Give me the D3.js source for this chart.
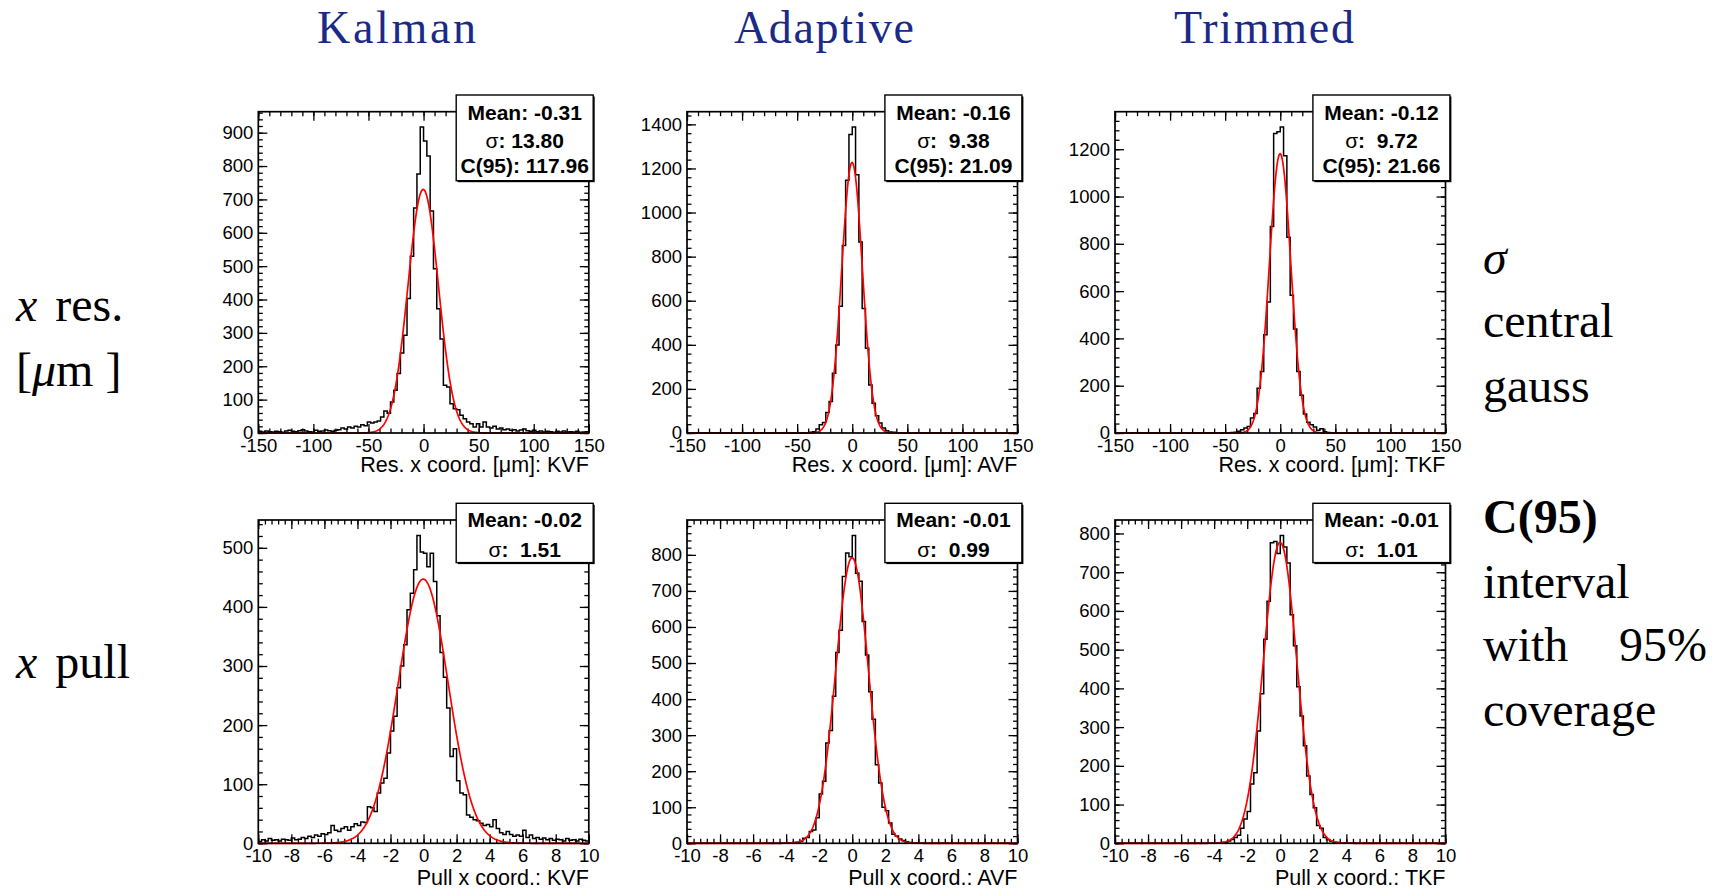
<!DOCTYPE html>
<html>
<head>
<meta charset="utf-8">
<script src="https://cdn.jsdelivr.net/npm/d3@7"></script>
<style>
  body { margin: 0; background: #fff; }
  svg { display: block; }
</style>
</head>
<body>
<svg id="chart" width="1715" height="891"></svg>
<script>
// ---------------- data ----------------
const algorithms = ["Kalman", "Adaptive", "Trimmed"];
const fitterCodes = ["KVF", "AVF", "TKF"];

// residual histograms: 100 bins over [-150, 150] µm
const resRange = [-150, 150];
const resKVF = [
  5, 3, 6, 4, 3, 5, 4, 2, 6, 8, 5, 4, 7, 10, 6, 4, 3, 8, 5, 6, 9, 7, 5, 8, 10,
  15, 12, 18, 15, 20, 18, 25, 22, 33, 30, 33, 36, 48, 66, 59, 93, 128, 178, 240, 293, 403, 530, 674, 776, 917,
  875, 830, 665, 492, 372, 282, 143, 138, 88, 73, 70, 53, 43, 33, 28, 18, 28, 18, 33, 18,
  15, 20, 12, 15, 10, 12, 8, 10, 6, 9, 12, 7, 5, 8, 4, 6, 3, 5, 4, 2, 5, 3, 6, 2, 4, 3, 5, 2, 3, 4
];
const resAVF = [
  0, 0, 0, 0, 0, 0, 0, 0, 0, 0, 0, 0, 0, 0, 0, 0, 0, 0, 0, 0, 0, 0, 0, 0, 0,
  0, 0, 0, 0, 0, 0, 0, 0, 0, 0, 1, 1, 3, 6, 18, 37, 48, 93, 143, 271, 399, 575, 850, 1147, 1354,
  1388, 1171, 866, 565, 384, 218, 135, 78, 45, 23, 10, 5, 3, 1, 1, 0, 0, 0, 0, 0,
  0, 0, 0, 0, 0, 0, 0, 0, 0, 0, 0, 0, 0, 0, 0, 0, 0, 0, 0, 0, 0, 0, 0, 0, 0, 0, 0, 0, 0, 0
];
const resTKF = [
  0, 0, 0, 0, 0, 0, 0, 0, 0, 0, 0, 0, 0, 0, 0, 0, 0, 0, 0, 0, 0, 0, 0, 0, 0,
  0, 0, 0, 0, 0, 0, 0, 0, 0, 1, 2, 3, 7, 14, 21, 28, 63, 82, 189, 260, 416, 554, 873, 1266, 1274,
  1294, 1172, 828, 582, 440, 260, 160, 80, 45, 35, 25, 12, 18, 5, 2, 1, 0, 0, 0, 0,
  0, 0, 0, 0, 0, 0, 0, 0, 0, 0, 0, 0, 0, 0, 0, 0, 0, 0, 0, 0, 0, 0, 0, 0, 0, 0, 0, 0, 0, 0
];

// pull histograms: 100 bins over [-10, 10]
const pullRange = [-10, 10];
const pullKVF = [
  3, 6, 4, 8, 5, 6, 4, 7, 6, 5, 9, 6, 7, 10, 8, 12, 10, 14, 12, 16, 15, 18,
  30, 22, 20, 25, 28, 22, 28, 33, 30, 36, 35, 62, 60, 54, 85, 102, 110, 153, 190, 215, 263, 300, 336, 395, 423, 463, 521, 493,
  491, 468, 491, 443, 385, 323, 281, 229, 147, 160, 106, 85, 82, 48, 44, 40, 38, 34, 30, 32,
  28, 40, 25, 18, 15, 20, 15, 12, 14, 12, 22, 10, 14, 8, 10, 7, 9, 6, 8, 5, 7, 6, 4, 8, 5, 6, 4, 7, 5, 4
];
const pullAVF = [
  0, 0, 0, 0, 0, 0, 0, 0, 0, 0, 0, 0, 0, 0, 0, 0, 0, 0, 0, 0, 0, 0, 0, 0, 0,
  0, 0, 0, 0, 0, 1, 1, 2, 3, 5, 14, 16, 33, 37, 71, 137, 172, 278, 313, 408, 529, 591, 740, 805, 795,
  854, 749, 727, 615, 522, 420, 344, 218, 167, 100, 90, 56, 25, 20, 12, 8, 4, 2, 1, 0,
  0, 0, 0, 0, 0, 0, 0, 0, 0, 0, 0, 0, 0, 0, 0, 0, 0, 0, 0, 0, 0, 0, 0, 0, 0, 0, 0, 0, 0, 0
];
const pullTKF = [
  0, 0, 0, 0, 0, 0, 0, 0, 0, 0, 0, 0, 0, 0, 0, 0, 0, 0, 0, 0, 0, 0, 0, 0, 0,
  0, 0, 0, 0, 0, 0, 1, 2, 3, 6, 10, 15, 21, 39, 63, 82, 153, 182, 290, 386, 527, 625, 776, 779, 748,
  795, 765, 724, 590, 510, 404, 329, 252, 174, 126, 92, 46, 39, 15, 9, 5, 3, 2, 1, 1,
  0, 0, 0, 0, 0, 0, 0, 0, 0, 0, 0, 0, 0, 0, 0, 0, 0, 0, 0, 0, 0, 0, 0, 0, 0, 0, 0, 0, 0, 0
];

// fit / statistics values
const resMean  = [-0.31, -0.16, -0.12];
const resSigma = [13.80, 9.38, 9.72];
const resC95   = [117.96, 21.09, 21.66];
const resFitAmp = [730, 1227, 1181];
const pullMean  = [-0.02, -0.01, -0.01];
const pullSigma = [1.51, 0.99, 1.01];
const pullFitAmp = [447, 792, 777];

// tick labels
const resXTicks  = [-150, -100, -50, 0, 50, 100, 150];
const pullXTicks = [-10, -8, -6, -4, -2, 0, 2, 4, 6, 8, 10];
const resYTicks = [
  [0, 100, 200, 300, 400, 500, 600, 700, 800, 900],
  [0, 200, 400, 600, 800, 1000, 1200, 1400],
  [0, 200, 400, 600, 800, 1000, 1200]
];
const pullYTicks = [
  [0, 100, 200, 300, 400, 500],
  [0, 100, 200, 300, 400, 500, 600, 700, 800],
  [0, 100, 200, 300, 400, 500, 600, 700, 800]
];

// row / column annotations
const rowLabels = [["x", " res."], ["[", "μ", "m ]"], ["x", " pull"]];

// ---------------- layout ----------------
const svg = d3.select("#chart");
const colX = [258.3, 687.0, 1115.0];
const frameW = 330.5;
const rowY = [111.7, 520.0];
const frameH = [321.3, 323.3];
const titleX = [396.5, 824, 1264];
const titleW = [159, 180, 180];
const rootFont = "'Liberation Sans', Arial, Helvetica, sans-serif";
const serifFont = "'Liberation Serif', 'Times New Roman', serif";

function fmt(v) { return String(v); }

function drawPanel(p) {
  const fx = colX[p.col], fy = rowY[p.row], fw = frameW, fh = frameH[p.row];
  const g = svg.append("g").attr("transform", `translate(${fx},${fy})`);
  const x = d3.scaleLinear().domain(p.range).range([0, fw]);
  const yMax = 1.05 * d3.max(p.values);
  const y = d3.scaleLinear().domain([0, yMax]).range([fh, 0]);

  // minor + major ticks on all four sides, pointing inwards
  const xMinor = d3.range(p.range[0], p.range[1] + 1e-9, p.xMinor);
  const yMinor = d3.range(0, yMax, p.yMinor);
  const major = 9, minor = 4.5;

  const axes = [
    g.append("g").attr("transform", `translate(0,${fh})`)
      .call(d3.axisBottom(x).tickValues(xMinor).tickSize(-minor).tickFormat("")),
    g.append("g").attr("transform", `translate(0,${fh})`)
      .call(d3.axisBottom(x).tickValues(p.xTicks).tickSize(-major).tickPadding(6).tickFormat(fmt)),
    g.append("g").call(d3.axisTop(x).tickValues(xMinor).tickSize(-minor).tickFormat("")),
    g.append("g").call(d3.axisTop(x).tickValues(p.xTicks).tickSize(-major).tickFormat("")),
    g.append("g").call(d3.axisLeft(y).tickValues(yMinor).tickSize(-minor).tickFormat("")),
    g.append("g").call(d3.axisLeft(y).tickValues(p.yTicks).tickSize(-major).tickPadding(5).tickFormat(fmt)),
    g.append("g").attr("transform", `translate(${fw},0)`)
      .call(d3.axisRight(y).tickValues(yMinor).tickSize(-minor).tickFormat("")),
    g.append("g").attr("transform", `translate(${fw},0)`)
      .call(d3.axisRight(y).tickValues(p.yTicks).tickSize(-major).tickFormat(""))
  ];
  axes.forEach(a => {
    a.select(".domain").remove();
    a.selectAll("line").attr("stroke", "#000").attr("stroke-width", 1.3);
    a.selectAll("text").attr("font-family", rootFont).attr("font-size", 18.5).attr("fill", "#000");
  });

  // histogram outline
  const bw = (p.range[1] - p.range[0]) / p.values.length;
  const steps = [];
  p.values.forEach((v, i) => {
    const a = p.range[0] + i * bw;
    steps.push([a, v], [a + bw, v]);
  });
  g.append("path")
    .datum(steps)
    .attr("d", d3.line().x(d => x(d[0])).y(d => y(d[1])))
    .attr("fill", "none")
    .attr("stroke", "#000")
    .attr("stroke-width", 1.5);

  // gaussian fit
  const fit = d3.range(0, 601).map(k => {
    const xv = p.range[0] + (p.range[1] - p.range[0]) * k / 600;
    return [xv, p.amp * Math.exp(-0.5 * Math.pow((xv - p.mean) / p.sigma, 2))];
  });
  g.append("path")
    .datum(fit)
    .attr("d", d3.line().x(d => x(d[0])).y(d => y(d[1])))
    .attr("fill", "none")
    .attr("stroke", "#ff0000")
    .attr("stroke-width", 1.7);

  // frame
  g.append("rect").attr("x", 0).attr("y", 0).attr("width", fw).attr("height", fh)
    .attr("fill", "none").attr("stroke", "#000").attr("stroke-width", 1.7);

  // axis title
  g.append("text")
    .attr("x", fw).attr("y", fh + (p.row === 0 ? 39 : 41.5))
    .attr("text-anchor", "end")
    .attr("font-family", rootFont).attr("font-size", 21.5)
    .text(p.title);

  // statistics box
  const bx = fx + fw + 4.4 - 137, by = fy - 16.7;
  const bh = p.c95 === null ? 59.3 : 85.7;
  const sb = svg.append("g").attr("transform", `translate(${bx},${by})`);
  sb.append("rect").attr("x", 1.5).attr("y", 1.5).attr("width", 137).attr("height", bh).attr("fill", "#000");
  sb.append("rect").attr("width", 137).attr("height", bh)
    .attr("fill", "#fff").attr("stroke", "#000").attr("stroke-width", 1.4);
  const lines = [];
  lines.push({ sym: null, txt: "Mean: " + p.mean.toFixed(2) });
  const sTxt = p.sigma.toFixed(2);
  lines.push({ sym: "σ", txt: ": " + (sTxt.length < 5 ? " " : "") + sTxt });
  if (p.c95 !== null) lines.push({ sym: null, txt: "C(95): " + p.c95.toFixed(2) });
  const baseY = p.c95 === null ? [23.3, 53.3] : [25, 53.3, 77.7];
  lines.forEach((ln, i) => {
    const t = sb.append("text")
      .attr("x", 68.5).attr("y", baseY[i])
      .attr("text-anchor", "middle")
      .attr("font-family", rootFont).attr("font-size", 21).attr("font-weight", "bold")
      .style("white-space", "pre");
    if (ln.sym) t.append("tspan").attr("font-weight", "normal").text(ln.sym);
    t.append("tspan").text(ln.txt);
  });
}

const resSets = [resKVF, resAVF, resTKF];
const pullSets = [pullKVF, pullAVF, pullTKF];
for (let c = 0; c < 3; c++) {
  drawPanel({
    row: 0, col: c, values: resSets[c], range: resRange,
    xTicks: resXTicks, xMinor: 10, yTicks: resYTicks[c], yMinor: c === 0 ? 20 : 40,
    title: "Res. x coord. [μm]: " + fitterCodes[c],
    mean: resMean[c], sigma: resSigma[c], c95: resC95[c], amp: resFitAmp[c]
  });
  drawPanel({
    row: 1, col: c, values: pullSets[c], range: pullRange,
    xTicks: pullXTicks, xMinor: 0.4, yTicks: pullYTicks[c], yMinor: 20,
    title: "Pull x coord.: " + fitterCodes[c],
    mean: pullMean[c], sigma: pullSigma[c], c95: null, amp: pullFitAmp[c]
  });
}

// column titles
algorithms.forEach((name, i) => {
  svg.append("text")
    .attr("x", titleX[i]).attr("y", 42.5)
    .attr("text-anchor", "middle")
    .attr("font-family", serifFont).attr("font-size", 46)
    .attr("textLength", titleW[i]).attr("lengthAdjust", "spacing")
    .attr("fill", "#1a2a86")
    .text(name);
});

// row labels on the left and notes on the right
const noteFont = 48;
function serifText(x, y, parts) {
  const t = svg.append("text").attr("x", x).attr("y", y)
    .attr("font-family", serifFont).attr("font-size", noteFont).attr("fill", "#000")
    .style("white-space", "pre");
  parts.forEach(pt => {
    const s = t.append("tspan").text(pt.t);
    if (pt.i) s.attr("font-style", "italic");
    if (pt.b) s.attr("font-weight", "bold");
    if (pt.dx) s.attr("dx", pt.dx);
  });
  return t;
}
serifText(16, 321, [{ t: rowLabels[0][0], i: true }, { t: rowLabels[0][1], dx: 6 }]);
serifText(16, 386, [{ t: rowLabels[1][0] }, { t: rowLabels[1][1], i: true }, { t: rowLabels[1][2] }]);
serifText(16, 678, [{ t: rowLabels[2][0], i: true }, { t: rowLabels[2][1], dx: 6 }]);

const rx = 1483;
serifText(rx, 274, [{ t: "σ", i: true }]);
serifText(rx, 337, [{ t: "central" }]);
serifText(rx, 402, [{ t: "gauss" }]);
serifText(rx, 533, [{ t: "C(95)", b: true }]);
serifText(rx, 598, [{ t: "interval" }]);
serifText(rx, 661, [{ t: "with" }]);
serifText(1707, 661, [{ t: "95%" }]).attr("text-anchor", "end");
serifText(rx, 726, [{ t: "coverage" }]);
</script>
</body>
</html>
